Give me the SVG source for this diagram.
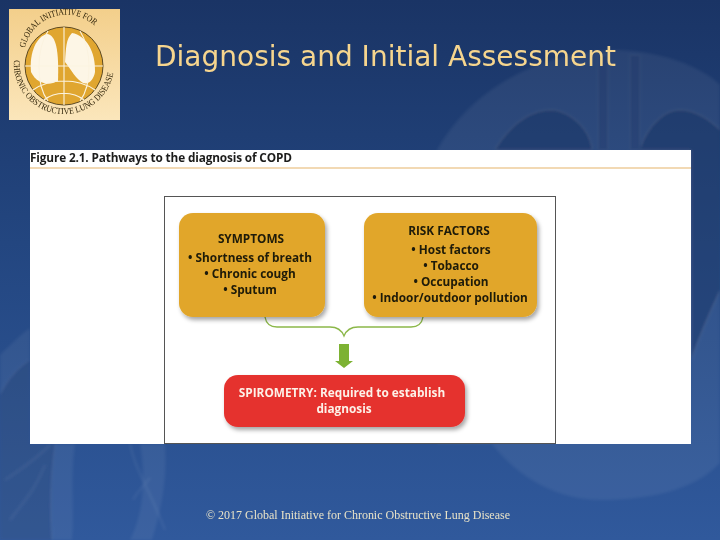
<svg xmlns="http://www.w3.org/2000/svg" width="720" height="540" viewBox="0 0 720 540">
<style>
.t{font-family:"Open Sans","Liberation Sans",sans-serif;font-weight:700;font-size:11.800px;fill:#1f1a08;text-anchor:middle;filter:url(#soft)}
.w{fill:#fdf1e8}
.l{font-family:"Liberation Serif",serif;font-size:9px;fill:#2e2208}
.g{fill:none;stroke:#fbf3e0;stroke-width:1.100}
.lt{fill:#fff;opacity:.06}
.dk{fill:#17305f;opacity:.45}
.tr{fill:none;stroke:#fff;stroke-opacity:.07;stroke-width:2}
</style>
<defs>
<linearGradient id="bg" x1="0" y1="0" x2="0" y2="1">
<stop offset="0" stop-color="#1a3465"/><stop offset=".45" stop-color="#234680"/><stop offset="1" stop-color="#30599c"/>
</linearGradient>
<linearGradient id="logo" x1="0" y1="0" x2="0" y2="1">
<stop offset="0" stop-color="#f3cf8b"/><stop offset="1" stop-color="#fbe6bb"/>
</linearGradient>
<filter id="sh" x="-10%" y="-10%" width="125%" height="130%">
<feDropShadow dx="2" dy="3" stdDeviation="2.2" flood-color="#000" flood-opacity=".35"/>
</filter>
<filter id="soft"><feGaussianBlur stdDeviation=".3"/></filter>
<filter id="bl" x="-5%" y="-5%" width="110%" height="110%"><feGaussianBlur stdDeviation="1.5"/></filter>
<path id="arcTop" d="M25 48 A42 42 0 0 1 108 54"/>
<path id="arcBot" d="M14 60 A50 50 0 0 0 114 68"/>
</defs>
<rect width="720" height="540" fill="url(#bg)"/>
<g id="backdrop" filter="url(#bl)">
<path class="lt" d="M437 150C470 90 540 50 620 50C660 52 700 65 720 85V444H437Z"/>
<path class="dk" d="M495 150C510 125 530 110 552 110C572 112 590 130 592 150Z"/>
<path class="dk" d="M640 150C648 125 665 110 680 110C695 110 710 120 720 130V290C706 320 698 340 691 360V150Z"/>
<path d="M598 55H608V150H598ZM630 55H640V150H630Z" fill="#17305f" opacity=".2"/>
<path class="lt" d="M0 355C10 345 20 335 30 328V444H75C70 480 75 510 72 540H0Z"/>
<path class="dk" d="M0 395C8 378 18 368 30 360V444H55C50 480 50 510 52 540H0Z" style="opacity:.25"/>
<path class="lt" d="M140 444H165C168 480 160 515 152 540H130C145 510 145 475 140 444Z"/>
<path class="lt" d="M492 444C520 480 560 500 600 500C650 500 695 490 720 463V444Z"/>
<path class="tr" d="M130 444C135 470 150 490 165 530M150 478C140 490 135 495 133 500M5 480C20 470 35 460 50 445M10 520C25 500 35 490 45 465"/>
</g>
<g id="logo-mark">
<rect x="9" y="9" width="111" height="111" fill="url(#logo)"/>
<circle cx="64" cy="66" r="39" fill="#e0a630" stroke="#3a2c10" stroke-width=".8"/>
<path d="M31 72C29 52 37 36 47 34C56 35 59 50 58 81C48 86 37 84 31 72Z" fill="#fdf6e6"/>
<path d="M72 33C86 35 96 52 95 72C94 79 89 85 83 83C76 79 72 71 65 62C66 48 66 39 72 33Z" fill="#fdf6e6"/>
<path class="g" d="M25 66H103M64 27V105M48 31C36 50 36 85 48 101M80 31C92 50 92 85 80 101M33 90C50 78 78 78 95 90M44 100C55 91 73 91 84 100"/>
<text class="l"><textPath href="#arcTop" textLength="88" lengthAdjust="spacingAndGlyphs">GLOBAL INITIATIVE FOR</textPath></text>
<text class="l"><textPath href="#arcBot" textLength="152" lengthAdjust="spacingAndGlyphs">CHRONIC OBSTRUCTIVE LUNG DISEASE</textPath></text>
</g>
<text id="title" x="155" y="66" textLength="461" lengthAdjust="spacingAndGlyphs" font-family="DejaVu Sans,sans-serif" font-size="28" fill="#f6d58e">Diagnosis and Initial Assessment</text>
<g id="figure">
<rect x="30" y="150" width="661" height="294" fill="#fff"/>
<line x1="30" y1="168" x2="691" y2="168" stroke="#e6b36a" stroke-width="1.200"/>
<text x="30" y="161.500" textLength="262" font-family="Open Sans,Liberation Sans,sans-serif" font-weight="700" font-size="11.800" fill="#1d1d1b" filter="url(#soft)">Figure 2.1. Pathways to the diagnosis of COPD</text>
<rect x="164.500" y="196.500" width="391" height="247" fill="#fff" stroke="#555" stroke-width="1"/>
</g>
<g id="connectors">
<path d="M265 317C266 323 270 327 277 327H330C337 327 342 331 344 336C346 331 351 327 358 327H411C418 327 422 323 423 317" fill="none" stroke="#8cb84a" stroke-width="1.300"/>
<path d="M339 344H349V361H353L344 368L335 361H339Z" fill="#7db233"/>
</g>
<g id="symptoms">
<rect x="179" y="213" width="146" height="104" rx="14" fill="#e1a62a" filter="url(#sh)"/>
<text class="t" x="251" y="243">SYMPTOMS</text>
<text class="t" x="250" y="262">• Shortness of breath</text>
<text class="t" x="250" y="278">• Chronic cough</text>
<text class="t" x="250" y="294">• Sputum</text>
</g>
<g id="risk-factors">
<rect x="364" y="213" width="173" height="104" rx="14" fill="#e1a62a" filter="url(#sh)"/>
<text class="t" x="449" y="235">RISK FACTORS</text>
<text class="t" x="451" y="254">• Host factors</text>
<text class="t" x="451" y="270">• Tobacco</text>
<text class="t" x="451" y="286">• Occupation</text>
<text class="t" x="450" y="302">• Indoor/outdoor pollution</text>
</g>
<g id="spirometry">
<rect x="224" y="375" width="241" height="52" rx="14" fill="#e5322e" filter="url(#sh)"/>
<text class="t w" x="342" y="397">SPIROMETRY: Required to establish</text>
<text class="t w" x="344" y="413">diagnosis</text>
</g>
<text id="footer" x="206" y="519" textLength="304" font-family="Liberation Serif,serif" font-size="12" fill="#e9e3c8">© 2017 Global Initiative for Chronic Obstructive Lung Disease</text>
</svg>
